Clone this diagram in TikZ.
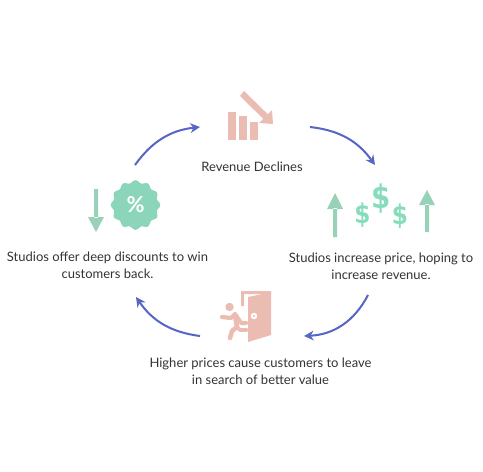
\documentclass[tikz,border=0pt]{standalone}
\usepackage{fontspec}
\setmainfont{Lato}
\newfontfamily\dollarfont{DejaVu Sans}
\usetikzlibrary{arrows.meta}
\definecolor{cycleblue}{HTML}{5566C4}
\definecolor{iconpink}{HTML}{EBBDB2}
\definecolor{icongreen}{HTML}{97D1B7}
\definecolor{badgegreen}{HTML}{8BD5BA}
\definecolor{dollargreen}{HTML}{85DDBB}
\definecolor{labelgray}{HTML}{333333}
\tikzset{
  steplabel/.style={font=\fontsize{7.4pt}{9.7pt}\selectfont, align=center, text=labelgray, inner sep=0pt},
  cyclearrow/.style={draw=cycleblue, line width=1.15pt, -{Stealth[length=5.5pt,width=5.5pt]}},
  dollarsign/.style={font=\dollarfont\fontsize{#1}{#1}\selectfont\bfseries, text=dollargreen, inner sep=0pt, xscale=0.85},
}
\begin{document}
\begin{tikzpicture}[x=0.02cm, y=-0.02cm]
    \useasboundingbox (0,0) rectangle (483,471);
    % labels
    \node[steplabel] (declines) at (252,167) {Revenue Declines};
    \node[steplabel] (increase) at (381,266.5) {Studios increase price, hoping to\\increase revenue.};
    \node[steplabel] (leave) at (260.5,371.5) {Higher prices cause customers to leave\\in search of better value};
    \node[steplabel] (discounts) at (107.5,265.5) {Studios offer deep discounts to win\\customers back.};

    % cycle arrows
    \coordinate (a1) at (135,165);
    \coordinate (a2) at (200,127);
    \coordinate (b1) at (310,127);
    \coordinate (b2) at (375,165);
    \coordinate (c1) at (368,295);
    \coordinate (c2) at (304,336);
    \coordinate (d1) at (200,336);
    \coordinate (d2) at (136,297);
    \draw[cyclearrow] (a1) to[bend left=24] (a2);
    \draw[cyclearrow] (b1) to[bend left=24] (b2);
    \draw[cyclearrow] (c1) to[bend left=30] (c2);
    \draw[cyclearrow] (d1) to[bend left=24] (d2);

    % falling revenue
    \fill[iconpink] (228,112) rectangle (236,140);
    \fill[iconpink] (239,116) rectangle (247,140);
    \fill[iconpink] (250,122) rectangle (258,140);
    \fill[iconpink] (240,96) -- (244,91) -- (267.8,114.2) -- (272,110) -- (273,124) -- (259,123) -- (263.2,118.8) -- cycle;

    % discount badge
    \begin{scope}[shift={(135.5,205)}]
        \fill[badgegreen] plot[domain=0:360, samples=121, smooth] (\x:{23.5+1.3*cos(12*\x)});
    \end{scope}
    \node[font=\fontsize{12.5pt}{12.5pt}\selectfont\bfseries, text=white, inner sep=0pt] (percent) at (135.5,205) {\%};
    \fill[icongreen] (94,189) rectangle (98,218) (88,217) -- (104,217) -- (96,232) -- cycle;

    % price rising
    \fill[icongreen] (333,237) rectangle (337,208) (327,209) -- (343,209) -- (335,193) -- cycle;
    \fill[icongreen] (425,232) rectangle (429,204) (419,205) -- (435,205) -- (427,190) -- cycle;
    \node[dollarsign=15.5pt] (dollarleft) at (362.5,215.5) {\$};
    \node[dollarsign=18.5pt] (dollarmid) at (381.5,198.5) {\$};
    \node[dollarsign=15.5pt] (dollarright) at (400,216) {\$};

    % door
    \fill[iconpink] (241,291) rectangle (271,294) (241,291) rectangle (244,306);
    \fill[iconpink] (248,297) -- (271,292) -- (271,335) -- (248,342) -- cycle;
    \fill[white] (254,316) circle (3.2);
    \fill[iconpink] (254,316) circle (1.2);
    \fill[iconpink] (229.5,307) circle (4.2);
    \draw[iconpink, line width=2.4pt, line cap=round, line join=round] (222,317) -- (231,318) -- (235,314) -- (241,323) -- (246,323);
    \draw[iconpink, line width=2.6pt, line cap=round, line join=round] (235,316) -- (237,327) -- (232,331) -- (230,338);
    \draw[iconpink, line width=2.2pt, line cap=round, line join=round] (237,327) -- (240,330) -- (247,330);
\end{tikzpicture}
\end{document}
